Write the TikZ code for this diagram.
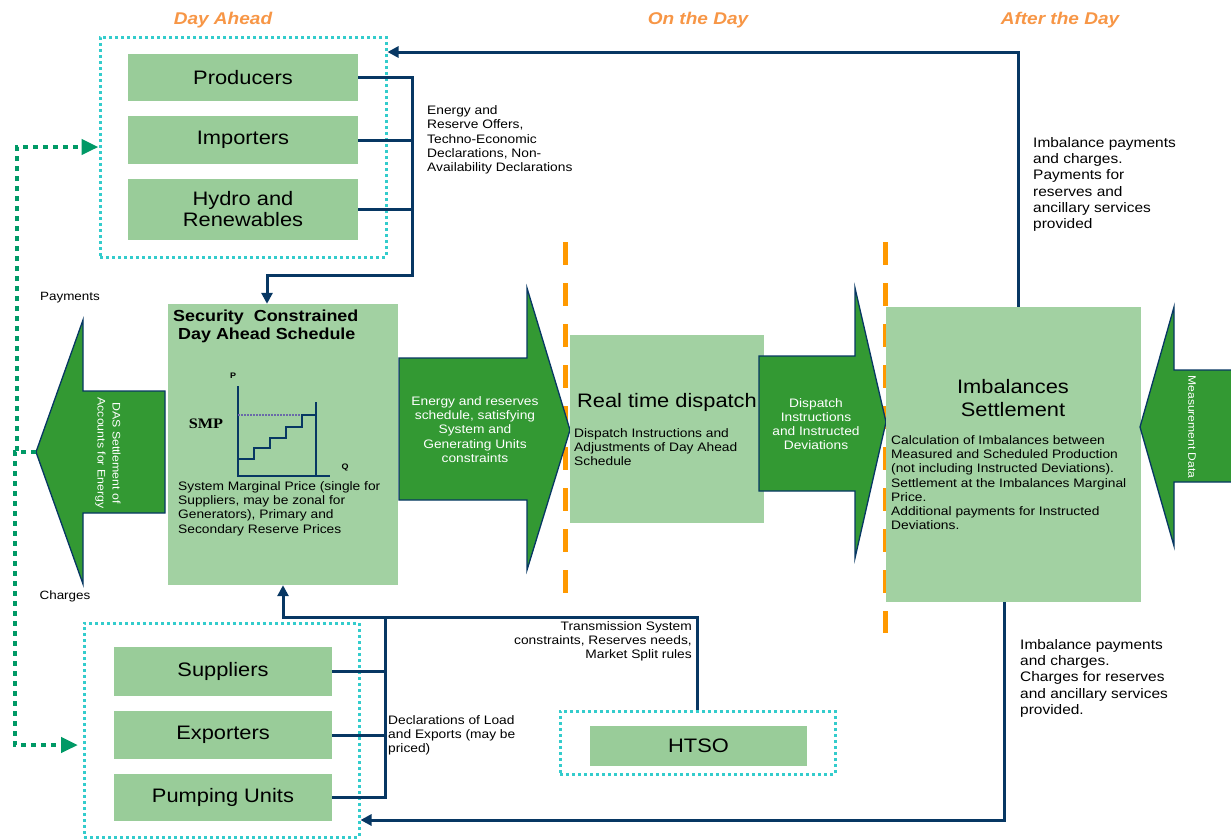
\documentclass[tikz,border=0pt]{standalone}
\usepackage{fontspec}
\setmainfont{Liberation Sans}[FakeStretch=1.12]
\newfontfamily\smpfont{Liberation Serif}[FakeStretch=1.12]
\usetikzlibrary{arrows.meta,calc}
\definecolor{boxg}{HTML}{99CC99}
\definecolor{bigg}{HTML}{A2D1A2}
\definecolor{arrg}{HTML}{339933}
\definecolor{navy}{HTML}{073763}
\definecolor{cyanc}{HTML}{33CCCC}
\definecolor{gdotc}{HTML}{009966}
\definecolor{orangec}{HTML}{FF9900}
\definecolor{hdrorange}{HTML}{F79646}
\definecolor{dotline}{HTML}{6A6AA8}
\begin{document}
\begin{tikzpicture}[x=1pt,y=-1pt,
  gbox/.style={fill=boxg, draw=none, inner sep=0pt, align=center, font=\fontsize{19.5}{21}\selectfont},
  bigbox/.style={fill=bigg, draw=none, inner sep=0pt},
  dotbox/.style={draw=cyanc, line width=3pt, dash pattern=on 3pt off 3pt, inner sep=0pt},
  conn/.style={draw=navy, line width=3pt},
  arr/.style={conn, -{Triangle[length=11pt,width=11pt]}},
  gdot/.style={draw=gdotc, line width=4.5pt, dash pattern=on 5pt off 5pt, -{Triangle[length=17pt,width=15pt]}},
  bigarrow/.style={fill=arrg, draw=navy, line width=1.3pt, line join=miter},
  orangedash/.style={draw=orangec, line width=5pt, dash pattern=on 23pt off 18pt},
  small/.style={inner sep=0pt, align=left, font=\fontsize{12.3}{14.3}\selectfont},
  medtext/.style={inner sep=0pt, align=left, font=\fontsize{13.8}{16.3}\selectfont},
  wtext/.style={inner sep=0pt, align=center, text=white, font=\fontsize{12.3}{14.2}\selectfont},
  header/.style={inner sep=0pt, text=hdrorange, font=\fontsize{17}{20}\selectfont\bfseries\itshape},
  bigtitle/.style={inner sep=0pt, align=center, font=\fontsize{19.5}{23}\selectfont}
]
\useasboundingbox (0,0) rectangle (1231,839);

% headers
\node[header] (hda) at (223,20) {Day Ahead};
\node[header] (hod) at (698,20) {On the Day};
\node[header] (had) at (1060,20) {After the Day};

% orange dashed separators
\draw[orangedash] (565,242) -- (565,603);
\draw[orangedash] (885,242) -- (885,633);

% top group
\node[gbox, minimum width=230, minimum height=47] (prod) at (243,77.5) {Producers};
\node[gbox, minimum width=230, minimum height=48] (imp) at (243,140) {Importers};
\node[gbox, minimum width=230, minimum height=61] (hydro) at (243,209.5) {Hydro and\\Renewables};
\node[dotbox, minimum width=286, minimum height=220] (topgrp) at (243,147) {};

% SCDAS
\node[bigbox, minimum width=230, minimum height=281] (scdas) at (283,444.5) {};
\node[inner sep=0pt, align=left, anchor=north west, font=\fontsize{16}{18}\selectfont\bfseries] (scdastitle) at (173,310) {Security\ \ Constrained\\\ Day Ahead Schedule};
\draw[navy, line width=1.6pt] (238,386) -- (238,476) -- (330,476);
\draw[navy, line width=1.6pt] (316,402) -- (316,476);
\draw[dotline, line width=1.4pt, dash pattern=on 1.5pt off 1.5pt] (238,415) -- (316,415);
\draw[navy, line width=1.6pt] (238,459) -| (254,448) -| (270,438) -| (286,427) -| (302,415) -- (316,415);
\node[inner sep=0pt, font=\fontsize{8}{9}\selectfont\bfseries] (plab) at (233,376) {P};
\node[inner sep=0pt, font=\fontsize{8}{9}\selectfont\bfseries] (qlab) at (345,467) {Q};
\node[inner sep=0pt, font=\smpfont\fontsize{14.5}{16}\selectfont\bfseries] (smp) at (206,424) {SMP};
\node[small, anchor=north west] (smptext) at (178,481) {System Marginal Price (single for\\Suppliers, may be zonal for\\Generators), Primary and\\Secondary Reserve Prices};

% top connectors
\coordinate (tj) at (412,275);
\draw[conn] (imp.east) -- (imp.east -| tj);
\draw[conn] (hydro.east) -- (hydro.east -| tj);
\draw[arr] (prod.east) -| (tj) -| ([xshift=-16pt]scdas.north);
\node[small, anchor=north west] (offers) at (427,105.5) {Energy and\\Reserve Offers,\\Techno-Economic\\Declarations, Non-\\Availability Declarations};

% DAS settlement arrow
\path[bigarrow] (165,391) -- (83,391) -- (83,320) -- (36,452) -- (83,584) -- (83,513) -- (165,513) -- cycle;
\node[wtext, rotate=-90, font=\fontsize{11}{15}\selectfont] (das) at (108,453) {DAS Settlement of\\Accounts for Energy};
\coordinate (dastip) at (36,452);
\node[inner sep=0pt, font=\fontsize{12}{14}\selectfont] (pay) at (70,298) {Payments};
\node[inner sep=0pt, font=\fontsize{12}{14}\selectfont] (chg) at (65,596) {Charges};

% green dotted links
\coordinate (expin) at (78,745);
\draw[gdot] (dastip) -- (17,452) -- (17,147) -- (topgrp.west);
\draw[gdot] (dastip) -- (15,452) -- (15,745) -- (expin);

% arrow 1
\path[bigarrow] (399,358) -- (527,358) -- (527,288) -- (570,430) -- (527,570) -- (527,500) -- (399,500) -- cycle;
\node[wtext] (schedtxt) at (475,429.5) {Energy and reserves\\schedule, satisfying\\System and\\Generating Units\\constraints};

% real time dispatch
\node[bigbox, minimum width=194, minimum height=188] (rtd) at (667,428.5) {};
\node[bigtitle] (rtdtitle) at (667,402) {Real time dispatch};
\node[small, anchor=north west] (rtdtext) at (574,428) {Dispatch Instructions and\\Adjustments of Day Ahead\\Schedule};

% arrow 2
\path[bigarrow] (759,356) -- (855,356) -- (855,288) -- (886,422) -- (855,558) -- (855,491) -- (759,491) -- cycle;
\node[wtext] (dispinstr) at (816,424) {Dispatch\\Instructions\\and Instructed\\Deviations};

% imbalances settlement
\node[bigbox, minimum width=255, minimum height=295] (imbal) at (1013.5,454.5) {};
\node[bigtitle] (imbtitle) at (1013,398.5) {Imbalances\\Settlement};
\node[small, anchor=north west] (imbtext) at (891,435) {Calculation of Imbalances between\\Measured and Scheduled Production\\(not including Instructed Deviations).\\Settlement at the Imbalances Marginal\\Price.\\Additional payments for Instructed\\Deviations.};

% measurement data arrow
\path[bigarrow] (1240,370) -- (1174,370) -- (1174,307) -- (1140,427) -- (1174,546) -- (1174,482) -- (1240,482) -- cycle;
\node[wtext, rotate=-90, font=\fontsize{10.8}{13}\selectfont] (meas) at (1192,427) {Measurement Data};

% after-the-day connectors
\draw[arr] ([xshift=4.5pt]imbal.north) |- ([yshift=95pt]topgrp.east);
\node[medtext, anchor=north west] (imbpay1) at (1033,137) {Imbalance payments\\and charges.\\Payments for\\reserves and\\ancillary services\\provided};

% bottom group
\node[gbox, minimum width=218, minimum height=49] (sup) at (223,671.5) {Suppliers};
\node[gbox, minimum width=218, minimum height=48] (exp) at (223,735) {Exporters};
\node[gbox, minimum width=218, minimum height=47] (pump) at (223,797.5) {Pumping Units};
\node[dotbox, minimum width=275, minimum height=214] (botgrp) at (221.5,730) {};

\draw[arr] ([xshift=-9.5pt]imbal.south) |- ([yshift=-90pt]botgrp.east);
\node[medtext, anchor=north west] (imbpay2) at (1020,639) {Imbalance payments\\and charges.\\Charges for reserves\\and ancillary services\\provided.};

% HTSO
\node[gbox, minimum width=217, minimum height=40] (htso) at (698.5,746) {HTSO};
\node[dotbox, minimum width=275, minimum height=63] (htsogrp) at (697.5,742.5) {};

% bottom connectors
\coordinate (bj) at (385,617);
\draw[conn] (sup.east) -- (sup.east -| bj);
\draw[conn] (exp.east) -- (exp.east -| bj);
\draw[conn] (pump.east) -| (bj);
\draw[arr] (htsogrp.north) |- (bj) -| (scdas.south);
\node[small, anchor=north east, align=right] (tsc) at (692,621) {Transmission System\\constraints, Reserves needs,\\Market Split rules};
\node[small, anchor=north west] (decl) at (388,715) {Declarations of Load\\and Exports (may be\\priced)};
\end{tikzpicture}
\end{document}
